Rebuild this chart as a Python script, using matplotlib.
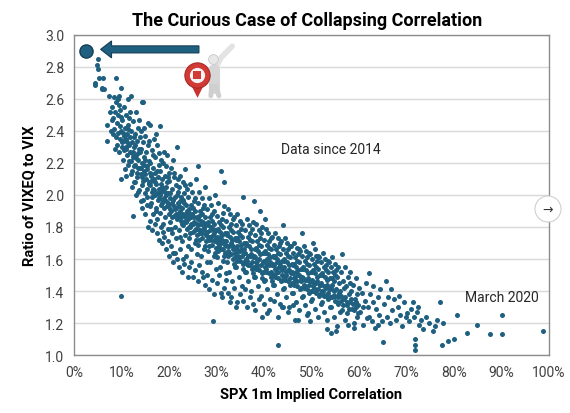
import numpy as np
import matplotlib.pyplot as plt
from matplotlib.patches import FancyArrow, Rectangle, Ellipse

# -------------------------------------------------
# Data (SPX 1m implied corr %, VIXEQ/VIX ratio)
# -------------------------------------------------

pts_top = [
    (6.7, 2.91), (5.1, 2.85), (4.8, 2.81), (5.1, 2.79), (5.3, 2.73), (6.2, 2.73), (4.4, 2.70),
    (8.8, 2.73), (6.0, 2.67), (6.4, 2.66), (7.4, 2.62), (8.4, 2.61), (9.5, 2.62), (7.0, 2.44),
    (7.0, 2.34), (5.8, 2.66), (4.4, 2.69),
    (8.1, 2.55), (8.3, 2.48), (8.5, 2.41), (8.6, 2.52), (8.8, 2.36), (8.9, 2.58), (9.0, 2.45),
    (9.1, 2.31), (9.2, 2.50), (9.3, 2.39), (9.4, 2.56), (9.5, 2.27), (9.6, 2.43), (9.7, 2.35),
    (9.8, 2.49), (9.9, 2.40), (8.2, 2.38), (8.7, 2.29), (9.2, 2.60), (9.6, 2.53), (7.6, 2.52),
    (7.9, 2.47), (7.8, 2.40),
    (10.0, 2.67), (10.1, 2.33), (10.2, 2.47), (10.3, 2.22), (10.4, 2.39), (10.5, 2.55), (10.6, 2.28),
    (10.7, 2.42), (10.8, 2.16), (10.9, 2.35), (11.0, 2.50), (11.1, 2.25), (11.2, 2.38), (11.3, 2.44),
    (11.4, 2.19), (11.5, 2.31), (11.6, 2.48), (11.7, 2.27), (11.8, 2.36), (11.9, 2.13), (10.2, 2.30),
    (10.6, 2.37), (11.0, 2.29), (11.4, 2.41), (11.8, 2.52), (10.9, 2.12), (10.0, 2.10), (11.3, 2.60),
    (12.0, 2.21), (12.1, 2.40), (12.2, 2.33), (12.3, 2.15), (12.4, 2.27), (12.4, 1.87), (12.5, 2.46),
    (12.6, 2.08), (12.7, 2.30), (12.8, 2.38), (12.9, 2.19), (13.0, 2.25), (13.1, 2.52), (13.2, 2.11),
    (13.3, 2.34), (13.4, 2.22), (13.5, 2.42), (13.6, 2.03), (13.7, 2.29), (13.8, 2.17), (13.9, 2.36),
    (12.1, 2.62), (12.5, 2.24), (12.9, 2.31), (13.3, 2.14), (13.7, 2.47), (12.2, 2.05), (13.0, 2.00),
    (12.6, 2.18), (13.5, 2.26), (14.4, 2.58), (10.0, 1.37),
]

pts_upper = [
    (14.0, 2.13), (14.1, 2.29), (14.2, 2.40), (14.3, 2.06), (14.4, 2.20), (14.5, 2.58), (14.5, 1.97),
    (14.6, 2.33), (14.7, 2.15), (14.8, 2.24), (14.9, 2.01), (15.0, 2.37), (15.1, 2.10), (15.2, 2.27),
    (15.3, 2.18), (15.4, 1.94), (15.5, 2.31), (15.6, 2.45), (15.7, 2.08), (15.8, 2.21), (15.9, 2.14),
    (14.2, 2.17), (14.6, 2.09), (15.0, 2.22), (15.4, 2.04), (15.8, 2.34), (14.8, 2.42), (15.3, 1.99),
    (16.0, 2.44), (14.4, 1.92),
    (16.0, 2.06), (16.1, 2.20), (16.2, 1.95), (16.3, 2.13), (16.4, 2.28), (16.5, 2.02), (16.6, 2.17),
    (16.7, 1.88), (16.8, 2.10), (16.9, 2.35), (17.0, 2.00), (17.1, 2.24), (17.2, 2.07), (17.3, 1.92),
    (17.4, 2.15), (17.5, 2.31), (17.6, 1.97), (17.7, 2.11), (17.8, 2.04), (17.9, 2.26), (16.2, 2.12),
    (16.6, 2.25), (17.0, 2.14), (17.4, 1.85), (17.8, 2.19), (16.4, 1.99), (17.2, 2.38), (18.1, 2.43),
    (16.8, 2.03),
    (18.0, 2.00), (18.1, 2.15), (18.2, 1.89), (18.3, 2.07), (18.4, 2.22), (18.5, 1.95), (18.6, 2.10),
    (18.7, 1.82), (18.8, 2.03), (18.8, 1.77), (18.9, 2.27), (19.0, 1.98), (19.1, 2.12), (19.2, 1.86),
    (19.3, 2.05), (19.4, 2.18), (19.5, 1.93), (19.6, 2.08), (19.7, 1.79), (19.8, 2.01), (19.9, 2.14),
    (18.3, 1.94), (18.7, 2.20), (19.1, 2.02), (19.5, 2.25), (19.9, 1.88), (18.5, 2.05), (19.3, 1.96),
    (19.7, 2.11),
    (20.0, 1.94), (20.1, 2.09), (20.2, 1.83), (20.3, 2.01), (20.4, 2.17), (20.5, 1.90), (20.6, 2.04),
    (20.7, 1.76), (20.8, 1.97), (20.9, 1.64), (20.9, 2.22), (21.0, 1.87), (21.1, 2.11), (21.2, 1.99),
    (21.3, 1.80), (21.4, 2.06), (21.5, 1.92), (21.6, 2.30), (21.7, 1.85), (21.8, 2.02), (21.9, 1.95),
    (20.2, 1.98), (20.6, 1.86), (21.0, 2.14), (21.4, 1.73), (21.8, 2.10), (20.4, 1.79), (21.2, 1.91),
    (21.6, 2.00),
    (22.0, 1.89), (22.1, 2.05), (22.2, 1.78), (22.3, 1.96), (22.4, 2.12), (22.5, 1.84), (22.6, 1.99),
    (22.7, 1.71), (22.8, 1.92), (22.9, 2.08), (23.0, 1.60), (23.0, 1.81), (23.1, 2.01), (23.2, 1.87),
    (23.3, 2.16), (23.4, 1.75), (23.5, 1.94), (23.6, 1.83), (23.7, 2.04), (23.8, 1.90), (23.9, 1.68),
    (22.2, 1.93), (22.6, 1.86), (23.0, 1.97), (23.4, 2.06), (23.8, 1.79), (22.4, 1.74), (23.2, 1.95),
    (23.6, 1.88),
]

pts_middle = [
    (24.0, 1.85), (24.1, 1.99), (24.2, 1.73), (24.3, 1.91), (24.4, 2.07), (24.5, 1.80), (24.6, 1.94),
    (24.7, 1.66), (24.8, 1.88), (24.9, 2.02), (25.0, 1.77), (25.1, 1.49), (25.2, 1.96), (25.3, 1.83),
    (25.4, 1.70), (25.5, 1.90), (25.6, 2.10), (25.7, 1.79), (25.8, 1.86), (25.9, 1.63), (24.2, 1.89),
    (24.6, 1.82), (25.0, 1.92), (25.4, 1.98), (25.8, 1.75), (24.4, 1.76), (25.2, 1.86), (25.6, 1.72),
    (26.2, 2.18),
    (26.0, 1.81), (26.1, 1.95), (26.2, 1.69), (26.3, 1.87), (26.4, 2.02), (26.5, 1.76), (26.6, 1.90),
    (26.7, 1.62), (26.8, 1.84), (26.9, 1.98), (27.0, 1.73), (27.1, 1.92), (27.2, 1.49), (27.3, 1.79),
    (27.4, 1.66), (27.5, 1.86), (27.6, 2.05), (27.7, 1.75), (27.8, 1.82), (27.9, 1.58), (26.2, 1.85),
    (26.6, 1.78), (27.0, 1.88), (27.4, 1.94), (27.8, 1.71), (26.4, 1.72), (27.2, 1.83), (27.6, 1.68),
    (28.0, 1.77), (28.1, 1.91), (28.2, 1.65), (28.3, 1.83), (28.4, 1.98), (28.5, 1.72), (28.6, 1.86),
    (28.7, 1.58), (28.8, 1.80), (28.9, 1.94), (29.0, 1.69), (29.1, 1.88), (29.2, 1.21), (29.3, 1.75),
    (29.4, 1.62), (29.5, 1.82), (29.6, 2.00), (29.7, 1.71), (29.8, 1.78), (29.9, 1.54), (28.2, 1.81),
    (28.6, 1.74), (29.0, 1.84), (29.4, 1.90), (29.8, 1.67), (28.4, 1.68), (29.2, 1.79), (29.6, 1.64),
    (30.0, 1.74), (30.1, 1.87), (30.2, 1.61), (30.3, 1.79), (30.4, 1.95), (30.5, 1.68), (30.6, 1.83),
    (30.7, 1.55), (30.8, 1.77), (30.9, 2.15), (30.9, 1.39), (31.0, 1.66), (31.1, 1.85), (31.2, 1.72),
    (31.3, 1.59), (31.4, 1.80), (31.5, 1.93), (31.6, 2.08), (31.7, 1.69), (31.8, 1.76), (31.9, 1.51),
    (30.2, 1.78), (30.6, 1.71), (31.0, 1.81), (31.4, 1.89), (31.8, 1.64), (30.4, 1.65), (31.2, 1.75),
    (31.6, 1.62),
    (32.0, 1.71), (32.1, 1.84), (32.2, 1.58), (32.3, 1.76), (32.4, 1.91), (32.5, 1.65), (32.6, 1.80),
    (32.7, 1.52), (32.8, 1.74), (32.8, 1.33), (32.9, 1.88), (33.0, 1.63), (33.1, 1.82), (33.2, 1.69),
    (33.3, 1.46), (33.4, 1.77), (33.5, 1.60), (33.6, 1.86), (33.7, 1.67), (33.8, 1.73), (33.9, 1.55),
    (32.2, 1.75), (32.6, 1.68), (33.0, 1.78), (33.4, 1.85), (33.8, 1.61), (32.4, 1.62), (33.2, 1.72),
    (33.6, 1.57),
    (34.0, 1.67), (34.1, 1.81), (34.2, 1.55), (34.3, 1.73), (34.4, 1.33), (34.4, 1.88), (34.5, 1.62),
    (34.6, 1.77), (34.7, 1.49), (34.8, 1.71), (34.9, 1.84), (35.0, 1.59), (35.1, 1.79), (35.2, 1.66),
    (35.3, 1.43), (35.4, 1.74), (35.5, 1.57), (35.6, 1.99), (35.7, 1.64), (35.8, 1.70), (35.9, 1.52),
    (34.2, 1.72), (34.6, 1.65), (35.0, 1.75), (35.4, 1.82), (35.8, 1.58), (34.4, 1.59), (35.2, 1.69),
    (35.6, 1.54),
    (36.0, 1.64), (36.1, 1.78), (36.2, 1.52), (36.3, 1.70), (36.4, 1.85), (36.5, 1.59), (36.6, 1.74),
    (36.7, 1.46), (36.8, 1.68), (36.9, 1.81), (37.0, 1.56), (37.1, 1.76), (37.2, 1.63), (37.3, 1.40),
    (37.4, 1.71), (37.5, 1.54), (37.6, 1.83), (37.7, 1.61), (37.8, 1.96), (37.9, 1.49), (36.2, 1.69),
    (36.6, 1.62), (37.0, 1.72), (37.4, 1.79), (37.8, 1.55), (36.4, 1.57), (37.2, 1.66), (37.6, 1.51),
]

pts_lower = [
    (38.0, 1.61), (38.1, 1.75), (38.2, 1.49), (38.3, 1.67), (38.4, 1.82), (38.5, 1.56), (38.6, 1.71),
    (38.7, 1.43), (38.8, 1.65), (38.9, 1.78), (39.0, 1.53), (39.1, 1.73), (39.2, 1.90), (39.3, 1.37),
    (39.4, 1.68), (39.5, 1.51), (39.6, 1.80), (39.7, 1.58), (39.8, 1.64), (39.9, 1.46), (38.2, 1.66),
    (38.6, 1.59), (39.0, 1.69), (39.4, 1.76), (39.8, 1.52), (38.4, 1.54), (39.2, 1.63), (39.6, 1.48),
    (40.0, 1.59), (40.1, 1.72), (40.2, 1.47), (40.2, 1.85), (40.3, 1.65), (40.4, 1.79), (40.5, 1.54),
    (40.6, 1.26), (40.6, 1.69), (40.7, 1.41), (40.8, 1.63), (40.9, 1.76), (41.0, 1.51), (41.1, 1.71),
    (41.2, 1.58), (41.3, 1.35), (41.4, 1.66), (41.5, 1.49), (41.6, 1.74), (41.7, 1.56), (41.8, 1.62),
    (41.9, 1.44), (40.2, 1.64), (40.6, 1.57), (41.0, 1.67), (41.4, 1.73), (41.8, 1.50), (40.4, 1.52),
    (41.2, 1.61), (41.6, 1.46),
    (42.0, 1.56), (42.1, 1.69), (42.2, 1.44), (42.3, 1.62), (42.4, 1.76), (42.5, 1.51), (42.6, 1.66),
    (42.7, 1.38), (42.8, 1.60), (42.9, 1.73), (43.0, 1.06), (43.0, 1.48), (43.1, 1.68), (43.2, 1.55),
    (43.3, 1.32), (43.4, 1.63), (43.5, 1.46), (43.6, 1.71), (43.7, 1.30), (43.7, 1.53), (43.8, 1.59),
    (43.9, 1.41), (42.2, 1.61), (42.6, 1.54), (43.0, 1.64), (43.4, 1.70), (43.8, 1.47), (42.4, 1.49),
    (43.2, 1.58), (44.1, 1.81),
    (44.0, 1.54), (44.1, 1.66), (44.2, 1.42), (44.3, 1.60), (44.4, 1.73), (44.5, 1.49), (44.6, 1.64),
    (44.7, 1.36), (44.8, 1.58), (44.9, 1.70), (45.0, 1.46), (45.1, 1.66), (45.2, 1.53), (45.3, 1.30),
    (45.4, 1.61), (45.5, 1.44), (45.6, 1.68), (45.7, 1.51), (45.8, 1.57), (45.9, 1.39), (44.2, 1.59),
    (44.6, 1.52), (45.0, 1.62), (45.4, 1.68), (45.8, 1.45), (44.4, 1.47), (45.2, 1.56), (46.5, 1.22),
    (46.0, 1.51), (46.1, 1.64), (46.2, 1.39), (46.3, 1.57), (46.4, 1.70), (46.5, 1.46), (46.6, 1.61),
    (46.7, 1.33), (46.8, 1.55), (46.9, 1.67), (47.0, 1.43), (47.1, 1.63), (47.2, 1.22), (47.2, 1.50),
    (47.3, 1.28), (47.4, 1.58), (47.5, 1.41), (47.6, 1.65), (47.7, 1.48), (47.8, 1.54), (47.9, 1.76),
    (47.9, 1.36), (46.2, 1.56), (46.6, 1.49), (47.0, 1.59), (47.4, 1.66), (47.8, 1.42), (46.4, 1.44),
    (47.2, 1.53),
    (48.0, 1.49), (48.1, 1.62), (48.2, 1.37), (48.3, 1.55), (48.4, 1.68), (48.5, 1.44), (48.6, 1.59),
    (48.7, 1.31), (48.8, 1.53), (48.9, 1.65), (49.0, 1.25), (49.0, 1.41), (49.1, 1.61), (49.2, 1.48),
    (49.3, 1.26), (49.4, 1.56), (49.5, 1.39), (49.6, 1.63), (49.7, 1.46), (49.8, 1.52), (49.9, 1.34),
    (48.2, 1.54), (48.6, 1.47), (49.0, 1.57), (49.4, 1.64), (49.8, 1.40), (48.4, 1.42), (49.2, 1.51),
    (49.6, 1.21),
    (50.0, 1.47), (50.1, 1.60), (50.2, 1.35), (50.3, 1.53), (50.4, 1.70), (50.5, 1.42), (50.6, 1.57),
    (50.7, 1.66), (50.7, 1.29), (50.8, 1.51), (50.9, 1.62), (51.0, 1.39), (51.1, 1.59), (51.2, 1.46),
    (51.3, 1.24), (51.4, 1.54), (51.5, 1.37), (51.6, 1.61), (51.7, 1.44), (51.8, 1.50), (51.9, 1.32),
    (50.2, 1.52), (50.6, 1.45), (51.0, 1.55), (51.4, 1.62), (51.8, 1.38), (50.4, 1.40), (51.2, 1.49),
]

pts_tail = [
    (52.0, 1.45), (52.1, 1.58), (52.2, 1.33), (52.3, 1.51), (52.4, 1.64), (52.5, 1.40), (52.6, 1.55),
    (52.7, 1.27), (52.8, 1.49), (52.9, 1.60), (53.0, 1.37), (53.1, 1.56), (53.2, 1.44), (53.3, 1.16),
    (53.3, 1.22), (53.4, 1.52), (53.5, 1.35), (53.6, 1.58), (53.7, 1.42), (53.8, 1.48), (53.9, 1.30),
    (52.2, 1.50), (52.6, 1.43), (53.0, 1.53), (53.4, 1.59), (53.8, 1.36), (52.4, 1.38), (53.2, 1.47),
    (54.1, 1.14),
    (54.0, 1.42), (54.1, 1.55), (54.2, 1.30), (54.3, 1.48), (54.4, 1.61), (54.5, 1.37), (54.6, 1.52),
    (54.7, 1.24), (54.8, 1.46), (54.9, 1.57), (55.0, 1.34), (55.1, 1.53), (55.2, 1.41), (55.3, 1.18),
    (55.4, 1.49), (55.5, 1.32), (55.6, 1.55), (55.7, 1.39), (55.8, 1.45), (55.9, 1.27), (54.4, 1.44),
    (55.0, 1.50), (55.6, 1.36), (55.2, 1.15),
    (56.0, 1.40), (56.2, 1.52), (56.4, 1.63), (56.5, 1.28), (56.6, 1.46), (56.8, 1.35), (57.0, 1.55),
    (57.1, 1.22), (57.2, 1.43), (57.4, 1.31), (57.6, 1.49), (57.7, 1.19), (57.8, 1.38), (58.0, 1.45),
    (56.3, 1.37), (56.9, 1.42), (57.5, 1.26), (58.1, 1.33),
    (58.2, 1.52), (58.4, 1.40), (58.6, 1.29), (58.8, 1.44), (59.0, 1.17), (59.1, 1.35), (59.3, 1.48),
    (59.5, 1.24), (59.6, 1.38), (59.8, 1.31), (60.0, 1.42), (58.9, 1.20), (59.4, 1.33),
    (60.3, 1.27), (60.6, 1.39), (60.9, 1.19), (61.2, 1.34), (61.5, 1.45), (61.8, 1.30), (62.1, 1.51),
    (62.1, 1.24), (62.4, 1.38), (62.7, 1.21), (63.0, 1.33), (63.3, 1.17), (63.6, 1.29), (63.9, 1.36),
    (64.2, 1.25), (64.5, 1.41), (64.8, 1.21), (60.8, 1.30), (61.6, 1.23), (62.9, 1.43), (64.0, 1.19),
    (65.1, 1.08), (65.3, 1.32), (65.7, 1.46), (65.9, 1.24), (66.2, 1.36), (66.6, 1.20), (67.0, 1.28),
    (67.4, 1.35), (67.8, 1.22), (68.2, 1.30), (68.6, 1.25), (69.0, 1.18), (69.4, 1.33), (69.8, 1.24),
    (66.8, 1.41), (68.4, 1.37),
    (70.2, 1.26), (70.6, 1.21), (71.0, 1.29), (71.3, 1.33), (71.6, 1.24), (71.8, 1.10), (71.8, 1.06),
    (71.8, 1.03), (72.2, 1.27), (72.6, 1.19), (73.0, 1.22), (73.5, 1.16), (74.2, 1.24), (74.8, 1.20),
    (72.4, 1.30),
    (75.6, 1.15), (76.4, 1.22), (77.1, 1.33), (77.4, 1.06), (77.6, 1.20), (78.8, 1.09), (80.0, 1.10),
    (80.6, 1.25), (82.7, 1.14), (84.8, 1.19), (87.6, 1.13), (90.0, 1.25), (90.0, 1.13), (98.8, 1.15),
    (76.0, 1.18),
]

# lower-left edge of the cloud
pts_lowleft = [
    (15.6, 1.80), (16.1, 1.84), (16.5, 1.78), (17.0, 1.82), (17.4, 1.76), (17.9, 1.72), (18.3, 1.80),
    (18.6, 1.70), (19.0, 1.74), (19.4, 1.66), (19.8, 1.71), (20.1, 1.62), (20.4, 1.68), (20.8, 1.58),
    (21.2, 1.64), (21.6, 1.60), (22.0, 1.55), (22.3, 1.66), (22.7, 1.52), (23.1, 1.57), (23.5, 1.62),
    (23.9, 1.49), (24.3, 1.55), (24.7, 1.58), (25.5, 1.53), (26.0, 1.46), (26.4, 1.56), (26.9, 1.52),
    (27.6, 1.44), (28.1, 1.50), (28.5, 1.41), (29.0, 1.47), (29.5, 1.38), (30.1, 1.45), (30.5, 1.50),
    (31.1, 1.36), (31.5, 1.42), (32.1, 1.47), (32.5, 1.39), (33.1, 1.36), (33.6, 1.42), (34.1, 1.30),
    (35.0, 1.38), (35.5, 1.34), (36.1, 1.41), (36.5, 1.30), (37.1, 1.36), (37.6, 1.32), (38.1, 1.28),
    (38.9, 1.35), (39.5, 1.24), (40.1, 1.32), (41.0, 1.28), (42.0, 1.34), (42.9, 1.24), (44.0, 1.30),
    (45.0, 1.27), (46.0, 1.31), (17.2, 1.90), (16.0, 1.93), (14.9, 1.88), (14.0, 1.96), (13.4, 2.02),
    (12.8, 2.08),
]

# dense core along the trend
pts_core = [
    (10.35, 2.34), (10.85, 2.30), (11.25, 2.33), (11.65, 2.21), (12.15, 2.26), (12.55, 2.36),
    (12.95, 2.23), (13.45, 2.17), (13.85, 2.27), (14.25, 2.11), (14.65, 2.19), (15.05, 2.13),
    (15.45, 2.16), (15.85, 2.07), (16.25, 2.09), (16.65, 2.04), (17.05, 2.08), (17.45, 2.01),
    (17.85, 1.98), (18.25, 2.02), (18.65, 1.97), (19.05, 1.92), (19.45, 2.00), (19.85, 1.95),
    (20.25, 1.91), (20.65, 1.95), (21.05, 1.93), (21.45, 1.88), (21.85, 1.86), (22.25, 1.90),
    (22.65, 1.82), (23.05, 1.88), (23.45, 1.84), (23.85, 1.86), (24.25, 1.80), (24.65, 1.86),
    (25.05, 1.82), (25.45, 1.78), (25.85, 1.82), (26.25, 1.78), (26.65, 1.82), (27.05, 1.76),
    (27.45, 1.80), (27.85, 1.76), (28.25, 1.74), (28.65, 1.78), (29.05, 1.72), (29.45, 1.76),
    (29.85, 1.73), (30.25, 1.70), (30.65, 1.74), (31.05, 1.70), (31.45, 1.66), (31.85, 1.71),
    (32.25, 1.68), (32.65, 1.64), (33.05, 1.70), (33.45, 1.66), (33.85, 1.64), (34.25, 1.68),
    (34.65, 1.61), (35.05, 1.65), (35.45, 1.62), (35.85, 1.66), (36.25, 1.60), (36.65, 1.56),
    (37.05, 1.62), (37.45, 1.58), (37.85, 1.62), (38.25, 1.58), (38.65, 1.54), (39.05, 1.60),
    (39.45, 1.56), (39.85, 1.58), (40.25, 1.55), (40.65, 1.60), (41.05, 1.56), (41.45, 1.52),
    (41.85, 1.57), (42.25, 1.54), (42.65, 1.58), (43.05, 1.52), (43.45, 1.56), (43.85, 1.50),
    (44.25, 1.55), (44.65, 1.50), (45.05, 1.53), (45.45, 1.48), (45.85, 1.52), (46.25, 1.48),
    (46.65, 1.52), (47.05, 1.46), (47.45, 1.50), (47.85, 1.46), (48.25, 1.48), (48.65, 1.43),
    (49.05, 1.47), (49.45, 1.44), (49.85, 1.46), (50.25, 1.43), (50.65, 1.40), (51.05, 1.45),
    (51.45, 1.41), (51.85, 1.44), (52.25, 1.40), (52.65, 1.37), (53.05, 1.42), (53.45, 1.39),
    (53.85, 1.41), (54.25, 1.36), (54.65, 1.40), (55.05, 1.37), (55.45, 1.33), (55.85, 1.38),
    (56.25, 1.34), (56.65, 1.31), (57.05, 1.36), (57.45, 1.33), (57.85, 1.29), (58.25, 1.35),
    (58.65, 1.32), (59.05, 1.28), (59.45, 1.30), (59.85, 1.26),
]

latest = (2.5, 2.90)          # big marker, latest reading
arrow_from = (26.3, 2.91)
arrow_to = (5.6, 2.91)

x_ticks = [0, 10, 20, 30, 40, 50, 60, 70, 80, 90, 100]
y_ticks = [1.0, 1.2, 1.4, 1.6, 1.8, 2.0, 2.2, 2.4, 2.6, 2.8, 3.0]

DOT = "#1f6080"
DOT_EDGE = "#143f55"

plt.rcParams["font.family"] = ["Roboto", "DejaVu Sans"]

pts = np.array(pts_top + pts_upper + pts_middle + pts_lower + pts_tail + pts_lowleft + pts_core)

fig = plt.figure(figsize=(5.7, 4.14), dpi=100)
ax = fig.add_axes([74 / 570, 1 - 356 / 414, 475 / 570, 320 / 414])

ax.scatter(pts[:, 0], pts[:, 1], s=13, color=DOT, linewidths=0, zorder=3)

ax.set_xlim(0, 100)
ax.set_ylim(1.0, 3.0)
ax.set_xticks(x_ticks)
ax.set_xticklabels([f"{t}%" for t in x_ticks])
ax.set_yticks(y_ticks)
ax.set_yticklabels([f"{t:.1f}" for t in y_ticks])
ax.tick_params(length=0, labelsize=10, labelcolor="#404040", pad=7)

ax.grid(axis="y", color="#d9d9d9", lw=1.0, zorder=0)
for s in ax.spines.values():
    s.set_color("#8c8c8c")
    s.set_linewidth(1.0)

ax.set_title("The Curious Case of Collapsing Correlation", fontsize=13, fontweight="bold", pad=7, x=0.49)
ax.set_xlabel("SPX 1m Implied Correlation", fontsize=10.5, fontweight="bold", labelpad=6)
ax.set_ylabel("Ratio of VIXEQ to VIX", fontsize=10.5, fontweight="bold", labelpad=6)

ax.text(54, 2.29, "Data since 2014", fontsize=10, color="#262626", ha="center", va="center")
ax.text(90, 1.36, "March 2020", fontsize=10, color="#262626", ha="center", va="center")

# latest point + arrow
ax.scatter([latest[0]], [latest[1]], s=90, color=DOT, edgecolors=DOT_EDGE, linewidths=1, zorder=5)
ax.add_patch(FancyArrow(arrow_from[0], arrow_from[1], arrow_to[0] - arrow_from[0], 0,
                        width=0.044, head_width=0.106, head_length=2.3,
                        length_includes_head=True, fc=DOT, ec=DOT_EDGE, lw=0.8, zorder=5))

# icon: red pin and a waving figure (white box hides the gridline behind it)
ax.add_patch(Rectangle((21.5, 2.62), 13.5, 0.3, color="white", zorder=1))
ax.plot([29.6, 31.0, 33.3], [2.78, 2.86, 2.93], color="#e3e3e3", lw=4, solid_capstyle="round", zorder=4)
ax.plot([29.4, 29.4], [2.79, 2.67], color="#d6d6d6", lw=8, solid_capstyle="round", zorder=4)
ax.plot([29.0, 28.8], [2.68, 2.62], color="#cfcfcf", lw=3.5, solid_capstyle="round", zorder=4)
ax.plot([29.9, 30.5], [2.68, 2.62], color="#cfcfcf", lw=3.5, solid_capstyle="round", zorder=4)
ax.plot([28.6, 27.4], [2.77, 2.73], color="#dadada", lw=3, solid_capstyle="round", zorder=4)
ax.scatter([29.2], [2.85], s=50, color="#e8e8e8", edgecolors="#c8c8c8", linewidths=0.6, zorder=6)
ax.scatter([25.9], [2.655], s=110, marker="v", color="#c8332f", linewidths=0, zorder=6)
ax.scatter([25.9], [2.75], s=330, color="#d23a35", edgecolors="#a82824", linewidths=0.8, zorder=6)
ax.scatter([25.9], [2.75], s=120, color="#f4f4f4", linewidths=0, zorder=7)
ax.scatter([25.9], [2.75], s=30, marker="s", color="#d23a35", linewidths=0, zorder=8)

# page carousel button at right edge
fig.patches.append(Ellipse((548 / 570, 1 - 210 / 414), 26 / 570, 26 / 414, transform=fig.transFigure,
                           fc="white", ec="#d0d0d0", lw=0.8))
fig.text(548 / 570, 1 - 210 / 414, "\u2192", fontsize=9, ha="center", va="center",
         color="#333333", family="DejaVu Sans")

fig.savefig("out.png", dpi=100)
